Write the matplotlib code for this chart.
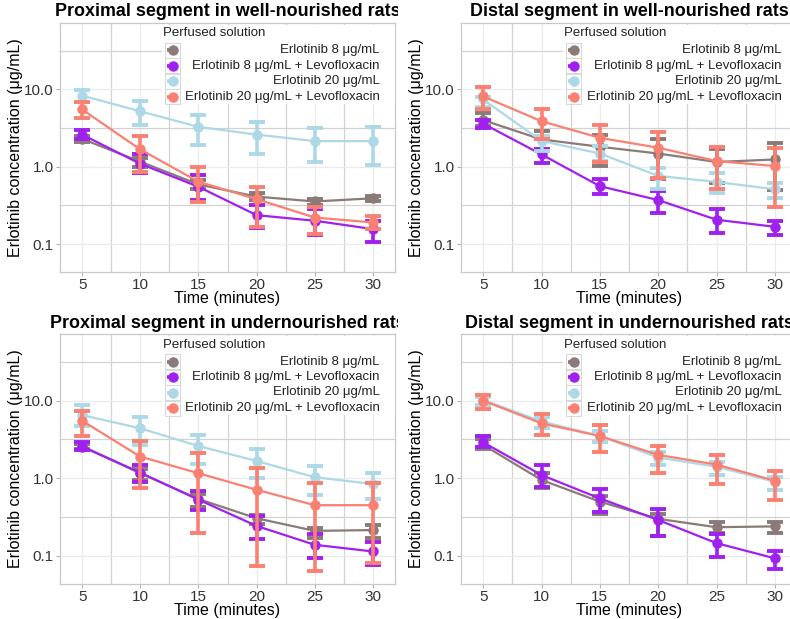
import matplotlib
matplotlib.use("Agg")
import matplotlib.pyplot as plt
import numpy as np
from matplotlib.patches import Rectangle
from matplotlib.transforms import Bbox

plt.rcParams['font.family'] = ['Liberation Sans', 'DejaVu Sans']

times = [5, 10, 15, 20, 25, 30]
series_labels = ["Erlotinib 8 μg/mL", "Erlotinib 8 μg/mL + Levofloxacin",
                 "Erlotinib 20 μg/mL", "Erlotinib 20 μg/mL + Levofloxacin"]
series_colors = ["#8B7B78", "#A020F0", "#ADD8E6", "#FA8072"]
panel_titles = ["Proximal segment in well-nourished rats", "Distal segment in well-nourished rats",
                "Proximal segment in undernourished rats", "Distal segment in undernourished rats"]

# Panel 1: proximal, well-nourished (order: E8, E8+L, E20, E20+L)
prox_well_mean = [[2.29, 1.16, 0.59, 0.41, 0.355, 0.39],
                  [2.6, 1.09, 0.55, 0.236, 0.2, 0.156],
                  [8.3, 5.2, 3.27, 2.6, 2.14, 2.14],
                  [5.5, 1.67, 0.64, 0.38, 0.22, 0.19]]
prox_well_lo = [[2.1, 1.0, 0.52, 0.37, 0.32, 0.36],
                [2.25, 0.82, 0.37, 0.16, 0.13, 0.105],
                [6.8, 3.5, 1.9, 1.44, 1.15, 1.04],
                [4.3, 0.85, 0.35, 0.164, 0.134, 0.156]]
prox_well_hi = [[2.5, 1.3, 0.68, 0.46, 0.38, 0.42],
                [3.0, 1.44, 0.77, 0.32, 0.28, 0.2],
                [9.9, 7.0, 4.7, 3.75, 3.2, 3.3],
                [6.8, 2.5, 1.0, 0.54, 0.3, 0.23]]

# Panel 2: distal, well-nourished
dist_well_mean = [[4.0, 2.25, 1.81, 1.48, 1.15, 1.24],
                  [3.6, 1.44, 0.56, 0.37, 0.206, 0.167],
                  [7.4, 2.15, 1.48, 0.76, 0.635, 0.51],
                  [8.1, 3.87, 2.36, 1.76, 1.18, 1.02]]
dist_well_lo = [[3.4, 1.59, 1.02, 0.69, 0.62, 0.5],
                [3.2, 1.13, 0.44, 0.255, 0.137, 0.13],
                [6.0, 1.6, 1.18, 0.51, 0.46, 0.39],
                [5.6, 2.25, 1.15, 0.72, 0.51, 0.3]]
dist_well_hi = [[4.95, 2.93, 2.6, 2.25, 1.7, 2.0],
                [4.07, 1.7, 0.69, 0.49, 0.28, 0.2],
                [8.0, 2.5, 1.85, 0.97, 0.84, 0.61],
                [10.6, 5.6, 3.5, 2.8, 1.8, 1.75]]

# Panel 3: proximal, undernourished
prox_under_mean = [[2.6, 1.16, 0.54, 0.305, 0.21, 0.215],
                   [2.55, 1.18, 0.53, 0.243, 0.139, 0.114],
                   [6.5, 4.4, 2.6, 1.67, 1.03, 0.845],
                   [5.5, 1.9, 1.16, 0.71, 0.45, 0.45]]
prox_under_lo = [[2.4, 0.95, 0.43, 0.26, 0.17, 0.17],
                 [2.3, 0.9, 0.39, 0.165, 0.093, 0.077],
                 [4.7, 2.7, 1.53, 1.02, 0.61, 0.54],
                 [3.45, 0.74, 0.2, 0.074, 0.064, 0.08]]
prox_under_hi = [[2.8, 1.3, 0.62, 0.34, 0.23, 0.25],
                 [2.9, 1.5, 0.69, 0.33, 0.19, 0.15],
                 [8.8, 6.1, 3.6, 2.4, 1.44, 1.16],
                 [7.4, 3.0, 2.14, 1.35, 0.86, 0.86]]

# Panel 4: distal, undernourished
dist_under_mean = [[2.69, 0.95, 0.5, 0.3, 0.234, 0.24],
                   [2.9, 1.1, 0.55, 0.29, 0.146, 0.093],
                   [10.2, 5.4, 3.5, 1.85, 1.41, 0.9],
                   [10.0, 5.1, 3.5, 2.0, 1.5, 0.93]]
dist_under_lo = [[2.4, 0.74, 0.35, 0.18, 0.2, 0.2],
                 [2.5, 0.78, 0.37, 0.18, 0.098, 0.067],
                 [8.8, 4.4, 2.9, 1.48, 1.1, 0.7],
                 [7.7, 3.6, 2.2, 1.16, 0.84, 0.53]]
dist_under_hi = [[3.2, 1.16, 0.59, 0.35, 0.27, 0.27],
                 [3.5, 1.48, 0.72, 0.40, 0.19, 0.117],
                 [11.0, 6.2, 4.1, 2.2, 1.64, 1.03],
                 [11.8, 6.7, 4.8, 2.6, 2.0, 1.25]]

panels = [(prox_well_mean, prox_well_lo, prox_well_hi),
          (dist_well_mean, dist_well_lo, dist_well_hi),
          (prox_under_mean, prox_under_lo, prox_under_hi),
          (dist_under_mean, dist_under_lo, dist_under_hi)]

W, H = 790, 619
fig = plt.figure(figsize=(W / 100, H / 100), dpi=100)

# panel rectangles in pixels (left, right, top, bottom)
rects = [(60, 395, 23, 272), (461, 797, 23, 272),
         (60, 395, 334, 584), (461, 797, 334, 584)]
clip_cols = [(0, 398), (398, 790), (0, 398), (398, 790)]

for i, ((m, lo, hi), (l, r, t, b)) in enumerate(zip(panels, rects)):
    ax = fig.add_axes([l / W, 1 - b / H, (r - l) / W, (b - t) / H])
    ax.set_yscale('log')
    ax.set_xlim(3.1, 31.9)
    ax.set_ylim(10 ** -1.362, 10 ** 1.858)
    ax.set_xticks(times)
    ax.set_xticklabels([str(v) for v in times])
    ax.set_xticks([7.5, 12.5, 17.5, 22.5, 27.5], minor=True)
    ax.set_yticks([0.1, 1, 10])
    ax.set_yticklabels(["0.1", "1.0", "10.0"])
    ax.set_yticks([10 ** -0.5, 10 ** 0.5, 10 ** 1.5], minor=True)
    ax.yaxis.set_minor_formatter(plt.NullFormatter())
    ax.grid(True, which='major', color='#ebebeb', lw=0.9)
    ax.grid(True, which='minor', color='#d2d2d2', lw=0.9)
    ax.set_axisbelow(True)
    for s in ax.spines.values():
        s.set_color('#c8c8c8')
        s.set_linewidth(0.9)
    ax.tick_params(which='major', length=3, color='#b3b3b3', labelsize=11, labelcolor='#333333', pad=1.5)
    ax.tick_params(which='minor', length=0)
    ax.set_xlabel("Time (minutes)", fontsize=11.5, labelpad=-1)
    ax.set_ylabel("Erlotinib concentration (μg/mL)", fontsize=11.5, labelpad=1)

    for k in range(4):
        y = np.array(m[k]); ylo = np.array(lo[k]); yhi = np.array(hi[k])
        c = series_colors[k]
        ax.errorbar(times, y, yerr=[y - ylo, yhi - y], fmt='none', ecolor=c,
                    elinewidth=2.6, capsize=6, capthick=2.8, zorder=3 + k * 0.1)
        ax.plot(times, y, color=c, lw=1.6, zorder=3.05 + k * 0.1)
        ax.plot(times, y, 'o', color=c, ms=6.5, mec=c, zorder=3.08 + k * 0.1)

    # legend (manual, ggplot-like)
    pw = r - l
    ph = b - t
    ax.add_patch(Rectangle((0.305, 0.675), 0.695, 0.318, transform=ax.transAxes,
                           facecolor='white', edgecolor='none', zorder=5, clip_on=False))
    ax.text(0.308, 0.958, "Perfused solution", transform=ax.transAxes, fontsize=9.5,
            ha='left', va='center', zorder=6, color='#222222')
    kx = 0.336
    for k in range(4):
        ky = 0.89 - k * 0.062
        ax.add_patch(Rectangle((kx - 7.5 / pw, ky - 7.5 / ph), 15 / pw, 15 / ph,
                               transform=ax.transAxes, facecolor='white',
                               edgecolor='#d9d9d9', lw=0.8, zorder=6, clip_on=False))
        ax.plot([kx - 5.5 / pw, kx + 5.5 / pw], [ky, ky], color=series_colors[k], lw=2.6,
                transform=ax.transAxes, zorder=7, clip_on=False, solid_capstyle='butt')
        ax.plot([kx], [ky], 'o', color=series_colors[k], ms=6.5,
                transform=ax.transAxes, zorder=7.1, clip_on=False)
        ax.text(0.955, ky, series_labels[k], transform=ax.transAxes, fontsize=9.5,
                ha='right', va='center', zorder=7, color='#222222')

    # title (clipped to its column like the reference)
    tt = fig.text((l + r) / 2 / W, 1 - (t - 11) / H, panel_titles[i], fontsize=12.9,
                  fontweight='bold', ha='center', va='center')
    c0, c1 = clip_cols[i]
    tt.set_clip_box(Bbox.from_extents(c0, 0, c1, H))
    tt.set_clip_on(True)

fig.savefig("out.png", dpi=100)
